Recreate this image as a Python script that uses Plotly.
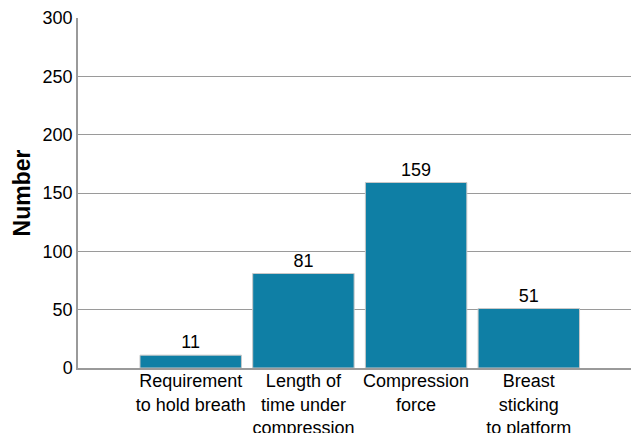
import plotly.graph_objects as go

categories = ["Requirement<br>to hold breath", "Length of<br>time under<br>compression",
              "Compression<br>force", "Breast<br>sticking<br>to platform"]
values = [11, 81, 159, 51]
y_ticks = [0, 50, 100, 150, 200, 250, 300]

x_pos = list(range(len(categories)))

fig = go.Figure(go.Bar(
    x=x_pos, y=values,
    text=[str(v) for v in values], textposition="outside",
    textfont=dict(size=18, color="#000000", family="Liberation Sans, Arial"),
    marker=dict(color="#0f7fa5", line=dict(color="#c8c8c8", width=1)),
    cliponaxis=False,
))

# page body has an 8px margin, so the figure is sized/offset to compensate
fig.update_layout(
    width=631, height=425,
    margin=dict(l=70, r=2, t=10, b=65),
    plot_bgcolor="white", paper_bgcolor="white",
    bargap=0.1,
    showlegend=False,
    font=dict(family="Liberation Sans, Arial", size=18, color="#000000"),
    xaxis=dict(
        range=[-1.0, 3.96], automargin=False,
        tickmode="array", tickvals=x_pos, ticktext=categories,
        showgrid=False, showline=True, linecolor="#9a9a9a", linewidth=1.5,
        ticks="", tickfont=dict(size=18), zeroline=False,
        ticklabelstandoff=-4,
    ),
    yaxis=dict(
        range=[0, 300], tickvals=y_ticks, automargin=False,
        showgrid=True, gridcolor="#9a9a9a", gridwidth=1,
        showline=True, linecolor="#9a9a9a", linewidth=1.5,
        ticks="", tickfont=dict(size=18), zeroline=False,
        title=dict(text="<b>Number</b>", font=dict(size=23), standoff=6),
    ),
)

fig.write_html("out.html")
